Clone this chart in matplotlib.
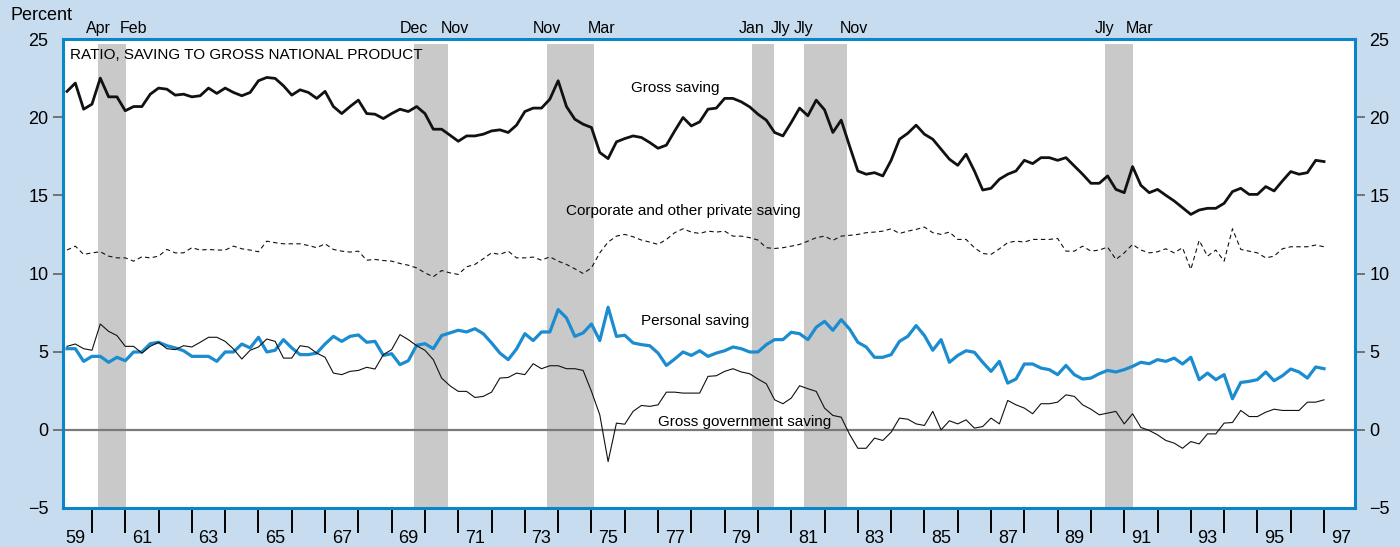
import matplotlib
matplotlib.use("Agg")
import matplotlib.pyplot as plt
from matplotlib import font_manager
import numpy as np

# quarterly observations, 1959:2 - 1997:1
quarters = 1959.25 + 0.25 * np.arange(152)

gross_saving = [
    21.65, 22.18, 20.51, 20.83, 22.50, 21.30, 21.30, 20.41, 20.68, 20.68,
    21.47, 21.86, 21.79, 21.41, 21.47, 21.30, 21.37, 21.86, 21.52, 21.86,
    21.58, 21.37, 21.58, 22.33, 22.54, 22.48, 22.01, 21.41, 21.75, 21.58,
    21.20, 21.65, 20.68, 20.23, 20.68, 21.09, 20.23, 20.19, 19.91,
    20.23, 20.51, 20.36, 20.68, 20.23, 19.23, 19.23, 18.85, 18.46, 18.80,
    18.80, 18.91, 19.12, 19.19, 19.02, 19.49, 20.36, 20.58, 20.58, 21.15,
    22.33, 20.68, 19.87, 19.55, 19.34, 17.74, 17.35, 18.42, 18.63, 18.80,
    18.70, 18.38, 18.01, 18.21, 19.12, 19.98, 19.44, 19.70, 20.51,
    20.58, 21.20, 21.20, 20.98, 20.66, 20.19, 19.81, 19.02, 18.80, 19.66,
    20.58, 20.09, 21.09, 20.47, 19.02, 19.81, 18.16, 16.56, 16.35, 16.45,
    16.24, 17.24, 18.59, 18.97, 19.49, 18.91, 18.59, 17.95, 17.31, 16.92,
    17.63, 16.56, 15.34, 15.45, 16.03, 16.35, 16.56, 17.24, 17.03,
    17.41, 17.41, 17.24, 17.41, 16.88, 16.35, 15.77, 15.77, 16.24, 15.38,
    15.17, 16.84, 15.64, 15.17, 15.38, 15.00, 14.64, 14.21, 13.78, 14.06,
    14.17, 14.17, 14.49, 15.24, 15.45, 15.06, 15.06, 15.56, 15.28, 15.92,
    16.52, 16.35, 16.45, 17.24, 17.16,
]

corporate_saving = [
    11.50, 11.75, 11.22, 11.32, 11.39, 11.11, 11.00, 11.00, 10.79, 11.07,
    11.00, 11.11, 11.54, 11.32, 11.32, 11.65, 11.50, 11.54, 11.50, 11.50,
    11.75, 11.58, 11.50, 11.39, 12.07, 11.97, 11.90, 11.90, 11.90, 11.79,
    11.65, 11.90, 11.54, 11.43, 11.37, 11.43, 10.85, 10.90, 10.83,
    10.79, 10.64, 10.53, 10.36, 10.04, 9.79, 10.19, 10.04, 9.94, 10.43,
    10.58, 10.94, 11.32, 11.22, 11.43, 11.00, 11.00, 11.05, 10.85, 11.07,
    10.79, 10.58, 10.30, 10.00, 10.36, 11.32, 12.01, 12.39, 12.50, 12.35,
    12.14, 12.01, 11.86, 12.18, 12.61, 12.86, 12.65, 12.56, 12.71,
    12.65, 12.71, 12.39, 12.39, 12.29, 12.14, 11.65, 11.60, 11.65, 11.75,
    11.86, 12.07, 12.29, 12.39, 12.12, 12.39, 12.44, 12.50, 12.61, 12.65,
    12.71, 12.86, 12.56, 12.71, 12.82, 12.97, 12.61, 12.50, 12.65, 12.18,
    12.18, 11.65, 11.28, 11.22, 11.58, 11.97, 12.07, 12.01, 12.18,
    12.18, 12.18, 12.24, 11.43, 11.43, 11.75, 11.43, 11.50, 11.69, 10.90,
    11.32, 11.86, 11.50, 11.32, 11.39, 11.58, 11.32, 11.65, 10.26, 12.12,
    11.11, 11.50, 10.79, 12.86, 11.54, 11.43, 11.32, 11.00, 11.11, 11.58,
    11.71, 11.71, 11.71, 11.82, 11.71,
]

personal_saving = [
    5.19, 5.19, 4.38, 4.70, 4.70, 4.32, 4.64, 4.42, 4.98, 4.98,
    5.51, 5.60, 5.38, 5.24, 5.06, 4.70, 4.70, 4.70, 4.38, 4.98,
    4.98, 5.49, 5.24, 5.92, 4.98, 5.09, 5.77, 5.24, 4.81, 4.81,
    4.91, 5.49, 5.98, 5.66, 5.98, 6.07, 5.60, 5.66, 4.76,
    4.87, 4.17, 4.42, 5.41, 5.51, 5.19, 6.03, 6.20, 6.37, 6.26,
    6.47, 6.15, 5.56, 4.91, 4.49, 5.17, 6.15, 5.71, 6.26, 6.26,
    7.69, 7.16, 5.98, 6.20, 6.77, 5.71, 7.84, 5.98, 6.05, 5.56,
    5.45, 5.38, 4.91, 4.12, 4.53, 4.98, 4.76, 5.06, 4.70,
    4.91, 5.06, 5.30, 5.19, 4.98, 4.98, 5.45, 5.77, 5.77, 6.24,
    6.15, 5.77, 6.56, 6.94, 6.37, 7.05, 6.45, 5.60, 5.30, 4.64,
    4.64, 4.81, 5.66, 5.98, 6.67, 6.03, 5.09, 5.77, 4.32, 4.76,
    5.06, 4.96, 4.32, 3.74, 4.38, 2.99, 3.25, 4.21, 4.21,
    3.95, 3.85, 3.53, 4.12, 3.53, 3.25, 3.31, 3.59, 3.80, 3.70,
    3.85, 4.06, 4.32, 4.23, 4.49, 4.38, 4.59, 4.21, 4.64, 3.21,
    3.63, 3.21, 3.53, 1.99, 3.03, 3.10, 3.21, 3.70, 3.14, 3.46,
    3.89, 3.70, 3.31, 4.02, 3.91,
]

government_saving = [
    5.34, 5.49, 5.19, 5.09, 6.77, 6.30, 6.03, 5.34, 5.34, 4.91,
    5.34, 5.60, 5.19, 5.13, 5.38, 5.30, 5.60, 5.92, 5.92, 5.66,
    5.17, 4.53, 5.09, 5.30, 5.81, 5.66, 4.59, 4.59, 5.38, 5.30,
    4.91, 4.64, 3.63, 3.53, 3.74, 3.80, 4.00, 3.89, 4.81,
    5.13, 6.09, 5.77, 5.38, 5.09, 4.49, 3.31, 2.82, 2.46, 2.46,
    2.07, 2.14, 2.41, 3.31, 3.35, 3.63, 3.53, 4.23, 3.91, 4.10,
    4.10, 3.91, 3.91, 3.80, 2.46, 0.96, -2.03, 0.43, 0.36, 1.18,
    1.56, 1.50, 1.60, 2.41, 2.41, 2.35, 2.35, 2.35, 3.42,
    3.46, 3.74, 3.91, 3.70, 3.59, 3.25, 2.95, 1.92, 1.67, 2.03,
    2.82, 2.63, 2.46, 1.39, 0.92, 0.81, -0.28, -1.18, -1.18, -0.53,
    -0.68, -0.15, 0.75, 0.68, 0.38, 0.28, 1.18, 0.00, 0.58, 0.38,
    0.64, 0.11, 0.21, 0.75, 0.38, 1.88, 1.60, 1.39, 1.03,
    1.67, 1.67, 1.77, 2.24, 2.14, 1.60, 1.32, 0.96, 1.07, 1.18,
    0.38, 1.03, 0.15, -0.04, -0.32, -0.68, -0.85, -1.18, -0.75, -0.90,
    -0.26, -0.26, 0.43, 0.47, 1.24, 0.85, 0.85, 1.13, 1.32, 1.24,
    1.24, 1.24, 1.77, 1.77, 1.92,
]

# recession bands and the month names printed above them
recessions = [(1960.18, 1961.02), (1969.67, 1970.69), (1973.66, 1975.09),
              (1979.82, 1980.47), (1981.38, 1982.66), (1990.42, 1991.25)]
recession_months = [("Apr", "Feb"), ("Dec", "Nov"), ("Nov", "Mar"),
                    ("Jan", "Jly"), ("Jly", "Nov"), ("Jly", "Mar")]

year_ticks = list(range(1960, 1998))
year_labels = ["%02d" % (y % 100) for y in range(1959, 1998, 2)]

bg = '#c8dcf0'
blue = '#0a86c8'
lineblue = '#1a8ccf'

names = {f.name for f in font_manager.fontManager.ttflist}
if 'Liberation Sans Narrow' in names:
    title_font, title_size = 'Liberation Sans Narrow', 13
else:
    title_font, title_size = 'Liberation Sans', 11
plt.rcParams['font.family'] = ['Liberation Sans', 'DejaVu Sans']

fig = plt.figure(figsize=(14, 5.47), dpi=100, facecolor=bg)
ax = fig.add_axes([63/1400, 39/547, 1292/1400, 469/547])
ax.set_facecolor('white')
ax.set_xlim(1959.13, 1997.93)
ax.set_ylim(-5, 25)

for (a, b), (m1, m2) in zip(recessions, recession_months):
    ax.axvspan(a, b, ymin=0, ymax=0.99, color='#c9c9c9', lw=0, zorder=0)
    ax.text(a, 1.023, m1, transform=ax.get_xaxis_transform(), ha='center',
            va='center', fontsize=11.5)
    ax.text(b + 0.22, 1.023, m2, transform=ax.get_xaxis_transform(), ha='center',
            va='center', fontsize=11.5)

ax.axhline(0, color='#7a7a7a', lw=1.6, zorder=1)

ax.plot(quarters, gross_saving, color='#111111', lw=2.0, zorder=3)
ax.plot(quarters, corporate_saving, color='#111111', lw=0.8, ls=(0, (4, 3)), zorder=3)
ax.plot(quarters, personal_saving, color=lineblue, lw=2.3, zorder=3)
ax.plot(quarters, government_saving, color='#111111', lw=0.8, zorder=3)

ax.text(1959.34, 24.0, 'RATIO, SAVING TO GROSS NATIONAL PRODUCT', fontsize=title_size,
        family=title_font, va='center', ha='left')
ax.text(1976.19, 21.86, 'Gross saving', fontsize=11, va='center')
ax.text(1974.25, 14.0, 'Corporate and other private saving', fontsize=11, va='center')
ax.text(1976.49, 6.94, 'Personal saving', fontsize=11, va='center')
ax.text(1976.99, 0.53, 'Gross government saving', fontsize=11, va='center')

# year boundaries get the tick marks, odd years get a label in their middle
ax.set_xticks(year_ticks)
ax.set_xticklabels([])
ax.set_xticks([y + 0.5 for y in range(1959, 1998, 2)], minor=True)
ax.set_xticklabels(year_labels, minor=True)
ax.tick_params(axis='x', which='major', length=18, width=1.4, color='black')
ax.tick_params(axis='x', which='minor', length=0, pad=16, labelsize=13)

ax.set_yticks(range(-5, 26, 5))
ax.tick_params(axis='y', length=7.5, width=1.3, color='#6a6a6a', labelsize=13,
               pad=3, right=True, labelright=True)
yt = ax.yaxis.get_major_ticks()
for t in (yt[0], yt[-1]):
    t.tick1line.set_visible(False)
    t.tick2line.set_visible(False)

for s in ax.spines.values():
    s.set_color(blue)
    s.set_linewidth(2.2)

fig.text(10/1400, 1 - 16/547, 'Percent', fontsize=13, va='center', ha='left')

fig.savefig('out.png', dpi=100, facecolor=bg)
